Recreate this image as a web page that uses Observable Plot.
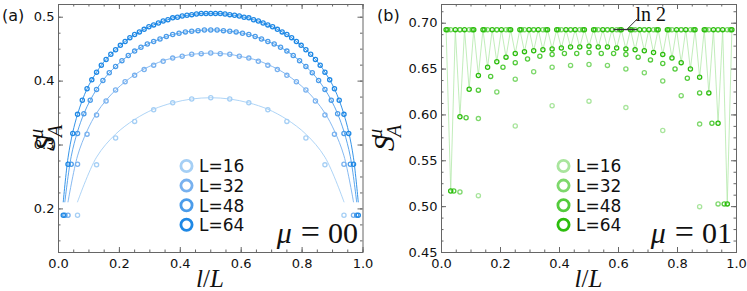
<!DOCTYPE html>
<html><head><meta charset="utf-8">
<script src="https://cdn.jsdelivr.net/npm/d3@7"></script>
<script src="https://cdn.jsdelivr.net/npm/@observablehq/plot@0.6"></script>
<style>
body{margin:0;background:#fff;}
#wrap{position:relative;width:747px;height:291px;font-family:"DejaVu Sans",sans-serif;}
#wrap svg{position:absolute;top:0;}
</style></head><body><div id="wrap"></div>
<script>
// ---------- data ----------
const sizes = [16, 32, 48, 64];
const legendLabels = ["L=16", "L=32", "L=48", "L=64"];

// panel (a): mu = 00, points
const s00_L16 = [0.190,0.269,0.311,0.337,0.355,0.366,0.372,0.374,0.372,0.366,0.355,0.337,0.311,0.269,0.190];
const s00_L32 = [0.190,0.270,0.317,0.347,0.369,0.386,0.399,0.409,0.418,0.425,0.431,0.436,0.439,0.442,0.443,0.444,
                 0.443,0.442,0.439,0.436,0.431,0.425,0.418,0.409,0.399,0.386,0.369,0.347,0.317,0.270,0.190];
const s00_L48 = [0.190,0.270,0.318,0.349,0.370,0.387,0.401,0.413,0.423,0.432,0.440,0.447,0.453,0.458,0.462,0.466,
                 0.470,0.473,0.475,0.477,0.478,0.479,0.480,0.480,0.480,0.479,0.478,0.477,0.475,0.473,0.470,0.466,
                 0.462,0.458,0.453,0.447,0.440,0.432,0.423,0.413,0.401,0.387,0.370,0.349,0.318,0.270,0.190];
const s00_L64 = [0.190,0.270,0.318,0.348,0.370,0.388,0.402,0.414,0.425,0.434,0.442,0.449,0.456,0.462,0.468,0.473,
                 0.477,0.481,0.485,0.488,0.491,0.494,0.496,0.499,0.500,0.502,0.503,0.504,0.505,0.506,0.506,0.506,
                 0.506,0.506,0.505,0.504,0.503,0.502,0.500,0.499,0.496,0.494,0.491,0.488,0.485,0.481,0.477,0.473,
                 0.468,0.462,0.456,0.449,0.442,0.434,0.425,0.414,0.402,0.388,0.370,0.348,0.318,0.270,0.190];
// panel (a): fitted curves
const fit00_L16 = [0.211,0.281,0.317,0.340,0.356,0.366,0.372,0.374,0.372,0.366,0.356,0.340,0.317,0.281,0.211];
const fit00_L32 = [0.211,0.283,0.322,0.350,0.370,0.386,0.399,0.410,0.419,0.426,0.432,0.436,0.439,0.442,0.443,0.444,
                   0.443,0.442,0.439,0.436,0.432,0.426,0.419,0.410,0.399,0.386,0.370,0.350,0.322,0.283,0.211];
const fit00_L48 = [0.211,0.282,0.321,0.349,0.370,0.387,0.401,0.413,0.423,0.432,0.440,0.447,0.453,0.458,0.462,0.466,
                   0.470,0.473,0.475,0.477,0.478,0.479,0.480,0.480,0.480,0.479,0.478,0.477,0.475,0.473,0.470,0.466,
                   0.462,0.458,0.453,0.447,0.440,0.432,0.423,0.413,0.401,0.387,0.370,0.349,0.321,0.282,0.211];
const fit00_L64 = [0.211,0.280,0.320,0.348,0.370,0.388,0.402,0.414,0.425,0.434,0.442,0.449,0.456,0.462,0.468,0.473,
                   0.477,0.481,0.485,0.488,0.491,0.494,0.496,0.499,0.500,0.502,0.503,0.504,0.505,0.506,0.506,0.506,
                   0.506,0.506,0.505,0.504,0.503,0.502,0.500,0.499,0.496,0.494,0.491,0.488,0.485,0.481,0.477,0.473,
                   0.468,0.462,0.456,0.449,0.442,0.434,0.425,0.414,0.402,0.388,0.370,0.348,0.320,0.280,0.211];

// panel (b): mu = 01, points
const s01_L16 = [0.693,0.512,0.693,0.588,0.693,0.610,0.693,0.615,0.693,0.608,0.693,0.583,0.693,0.500,0.693];
const s01_L32 = [0.693,0.516,0.693,0.596,0.693,0.625,0.693,0.639,0.693,0.647,0.693,0.652,0.693,0.654,0.693,0.655,
                 0.693,0.654,0.693,0.650,0.693,0.646,0.693,0.637,0.693,0.621,0.693,0.590,0.693,0.503,0.693];
const s01_L48 = [0.693,0.517,0.693,0.597,0.693,0.627,0.693,0.642,0.693,0.652,0.693,0.657,0.693,0.661,0.693,0.664,
                 0.693,0.666,0.693,0.667,0.693,0.667,0.693,0.668,0.693,0.667,0.693,0.667,0.693,0.666,0.693,0.663,
                 0.693,0.660,0.693,0.656,0.693,0.650,0.693,0.640,0.693,0.624,0.693,0.591,0.693,0.503,0.693];
const s01_L64 = [0.693,0.517,0.693,0.598,0.693,0.628,0.693,0.643,0.693,0.652,0.693,0.658,0.693,0.663,0.693,0.667,
                 0.693,0.669,0.693,0.670,0.693,0.671,0.693,0.672,0.693,0.673,0.693,0.674,0.693,0.674,0.693,0.675,
                 0.693,0.674,0.693,0.674,0.693,0.673,0.693,0.672,0.693,0.671,0.693,0.670,0.693,0.668,0.693,0.666,
                 0.693,0.662,0.693,0.657,0.693,0.650,0.693,0.641,0.693,0.624,0.693,0.591,0.693,0.503,0.693];

// annotation of ln 2
const ln2Bar = [{x1: 0.585, x2: 0.665, y: 0.6931}];
const ln2Arrow = [{x1: 0.628, y1: 0.6931, x2: 0.664, y2: 0.7048}];
const ln2Text = [{x: 0.6576, y: 0.7019, text: "ln 2"}];

// ticks
const xMajor = [0, 0.2, 0.4, 0.6, 0.8, 1.0];
const xMinor = [0,0.05,0.1,0.15,0.2,0.25,0.3,0.35,0.4,0.45,0.5,0.55,0.6,0.65,0.7,0.75,0.8,0.85,0.9,0.95,1.0];
const yMajorA = [0.2, 0.3, 0.4, 0.5];
const yMinorA = [0.15,0.175,0.2,0.225,0.25,0.275,0.3,0.325,0.35,0.375,0.4,0.425,0.45,0.475,0.5];
const yMajorB = [0.45, 0.50, 0.55, 0.60, 0.65, 0.70];
const yMinorB = [0.45,0.4625,0.475,0.4875,0.5,0.5125,0.525,0.5375,0.55,0.5625,0.575,0.5875,0.6,0.6125,0.625,
                 0.6375,0.65,0.6625,0.675,0.6875,0.7,0.7125];

// colours
const blues = ["#a5cff5", "#78b1ef", "#4b9cea", "#1e88e5"];
const greens = ["#a9e59d", "#7ed86c", "#53cb3b", "#2cbd0c"];
const line01Color = "#b3e9aa";
const axisColor = "#666";

// ---------- helpers ----------
const rows = (arr, L) => arr.map((v, i) => ({x: (i + 1) / L, y: v, L}));
const H = 291 - 4 - 39;

function panel({width, marginLeft, marginRight, ydomain, yMajor, yMinor, yfmt, marks}) {
  const W = width - marginLeft - marginRight;
  return Plot.plot({
    width, height: 291, marginLeft, marginRight, marginTop: 4, marginBottom: 39,
    style: {fontFamily: "DejaVu Sans", fontSize: "13px", color: "#222", background: "transparent", overflow: "visible"},
    x: {domain: [0, 1]},
    y: {domain: ydomain},
    marks: [
      ...marks,
      Plot.tickX(xMinor, {insetTop: H - 2.5, stroke: axisColor}),
      Plot.tickX(xMinor, {insetBottom: H - 2.5, stroke: axisColor}),
      Plot.tickX(xMajor, {insetTop: H - 5, stroke: axisColor}),
      Plot.tickX(xMajor, {insetBottom: H - 5, stroke: axisColor}),
      Plot.tickY(yMinor, {insetRight: W - 2.5, stroke: axisColor}),
      Plot.tickY(yMinor, {insetLeft: W - 2.5, stroke: axisColor}),
      Plot.tickY(yMajor, {insetRight: W - 5, stroke: axisColor}),
      Plot.tickY(yMajor, {insetLeft: W - 5, stroke: axisColor}),
      Plot.frame({stroke: axisColor, strokeWidth: 1}),
      Plot.axisX(xMajor, {tickSize: 0, tickPadding: 6, tickFormat: d => d.toFixed(1), label: null, fill: "#111"}),
      Plot.axisY(yMajor, {tickSize: 0, tickPadding: 4, tickFormat: yfmt, label: null, fill: "#111"})
    ]
  });
}

// ---------- panel (a) ----------
const pts00 = [s00_L16, s00_L32, s00_L48, s00_L64];
const fits00 = [fit00_L16, fit00_L32, fit00_L48, fit00_L64];
const marksA = [];
sizes.forEach((L, k) => {
  marksA.push(Plot.line(rows(fits00[k], L), {x: "x", y: "y", stroke: blues[k], strokeWidth: 0.9, curve: "catmull-rom"}));
});
sizes.forEach((L, k) => {
  marksA.push(Plot.dot(rows(pts00[k], L), {x: "x", y: "y", r: 2.1, stroke: blues[k], strokeWidth: 1.3, fill: "none"}));
});
const chartA = panel({width: 375, marginLeft: 58, marginRight: 12.5, ydomain: [0.1318, 0.5199],
  yMajor: yMajorA, yMinor: yMinorA, yfmt: d => d.toFixed(1), marks: marksA});
chartA.style.left = "0px";

// ---------- panel (b) ----------
const pts01 = [s01_L16, s01_L32, s01_L48, s01_L64];
const marksB = [
  Plot.line(rows(s01_L64, 64), {x: "x", y: "y", stroke: line01Color, strokeWidth: 0.8})
];
sizes.forEach((L, k) => {
  marksB.push(Plot.dot(rows(pts01[k], L), {x: "x", y: "y", r: 2.1, stroke: greens[k], strokeWidth: 1.3, fill: "none"}));
});
marksB.push(
  Plot.ruleY(ln2Bar, {y: "y", x1: "x1", x2: "x2", stroke: "#333", strokeWidth: 1.3}),
  Plot.link(ln2Arrow, {x1: "x1", y1: "y1", x2: "x2", y2: "y2", stroke: "#333", strokeWidth: 1}),
  Plot.text(ln2Text, {x: "x", y: "y", text: "text", textAnchor: "start", lineAnchor: "bottom",
    fontSize: 20, fontFamily: "Liberation Serif", fill: "#111"})
);
const chartB = panel({width: 372, marginLeft: 66, marginRight: 11, ydomain: [0.45, 0.7204],
  yMajor: yMajorB, yMinor: yMinorB, yfmt: d => d.toFixed(2), marks: marksB});
chartB.style.left = "375px";

const wrap = document.getElementById("wrap");
wrap.appendChild(chartA);
wrap.appendChild(chartB);

// ---------- overlay text: panel labels, axis titles, legends ----------
const ov = d3.select(wrap).append("svg").attr("width", 747).attr("height", 291)
  .style("left", "0px").style("pointer-events", "none");

function ylabel(x) {
  const t = ov.append("text").attr("transform", `translate(${x},151) rotate(-90)`)
    .attr("font-family", "Liberation Serif").attr("fill", "#111");
  t.append("tspan").attr("font-style", "italic").attr("font-size", 30).text("S");
  t.append("tspan").attr("font-style", "italic").attr("font-size", 20).attr("dy", 7).attr("dx", -1).text("A");
  t.append("tspan").attr("font-style", "italic").attr("font-size", 20).attr("dx", -14).attr("dy", -19).text("μ");
}
ylabel(55);
ylabel(394);

function xlabel(cx) {
  const t = ov.append("text").attr("x", cx).attr("y", 287).attr("text-anchor", "middle")
    .attr("font-family", "Liberation Serif").attr("font-size", 25).attr("fill", "#111");
  t.append("tspan").attr("font-style", "italic").text("l");
  t.append("tspan").text("/");
  t.append("tspan").attr("font-style", "italic").text("L");
}
xlabel(210);
xlabel(588.5);

function mulabel(xEnd, val) {
  const t = ov.append("text").attr("x", xEnd).attr("y", 243).attr("text-anchor", "end")
    .attr("font-family", "Liberation Serif").attr("font-size", 30).attr("fill", "#111");
  t.append("tspan").attr("font-style", "italic").text("μ");
  t.append("tspan").attr("dx", 9).attr("font-size", 34).text("=");
  t.append("tspan").attr("dx", 8).text(val);
}
mulabel(358, "00");
mulabel(732, "01");

ov.append("text").attr("x", 2).attr("y", 21).attr("font-size", 16).attr("fill", "#111").text("(a)");
ov.append("text").attr("x", 377).attr("y", 21).attr("font-size", 16).attr("fill", "#111").text("(b)");

function legend(cx, colors) {
  legendLabels.forEach((lab, i) => {
    const cy = 166 + i * 19.6;
    ov.append("circle").attr("cx", cx).attr("cy", cy).attr("r", 5.6)
      .attr("fill", "none").attr("stroke", colors[i]).attr("stroke-width", 2.8);
    ov.append("text").attr("x", cx + 12.5).attr("y", cy + 6.3).attr("font-size", 17)
      .attr("fill", "#111").text(lab);
  });
}
legend(186.5, blues);
legend(563.5, greens);
</script></body></html>
